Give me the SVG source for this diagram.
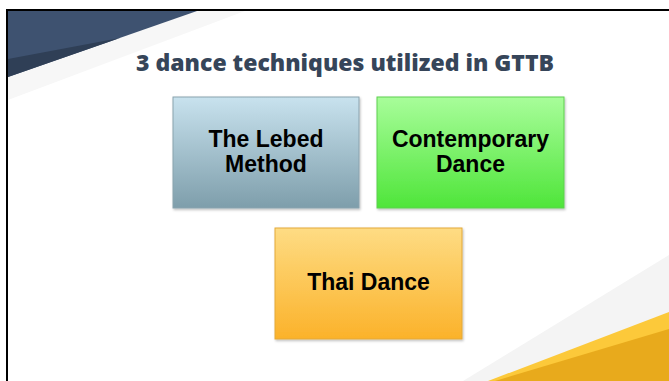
<svg xmlns="http://www.w3.org/2000/svg" width="669" height="381" viewBox="0 0 669 381">
  <defs>
    <linearGradient id="gBlue" x1="0" y1="0" x2="0" y2="1">
      <stop offset="0" stop-color="#c8e2ee"/>
      <stop offset="1" stop-color="#7e9eab"/>
    </linearGradient>
    <linearGradient id="gGreen" x1="0" y1="0" x2="0" y2="1">
      <stop offset="0" stop-color="#a8fd9a"/>
      <stop offset="1" stop-color="#4fe53a"/>
    </linearGradient>
    <linearGradient id="gGold" x1="0" y1="0" x2="0" y2="1">
      <stop offset="0" stop-color="#fedc84"/>
      <stop offset="1" stop-color="#fbb22a"/>
    </linearGradient>
    <filter id="shadow" x="-10%" y="-10%" width="125%" height="125%">
      <feDropShadow dx="1" dy="1.5" stdDeviation="1" flood-color="#000" flood-opacity="0.25"/>
    </filter>
  </defs>
  <style>
    .title { font-family: "Open Sans", "Liberation Sans", sans-serif; font-weight: 800; font-size: 22px; fill: #364559; }
    .label { font-family: "Liberation Sans", Arial, sans-serif; font-weight: 700; font-size: 23px; fill: #000; text-anchor: middle; }
    .box { filter: url(#shadow); stroke-width: 1; }
  </style>

  <!-- slide background -->
  <rect x="0" y="0" width="669" height="381" fill="#ffffff"/>

  <!-- corner decorations -->
  <polygon points="8,11 245,11 8,100" fill="#f7f7f7"/>
  <polygon points="8,11 197,11 8,77" fill="#3e5270"/>
  <polygon points="8,59 120,38 8,77" fill="#2f3f56"/>
  <polygon points="463,381 669,255 669,381" fill="#f4f4f4"/>
  <polygon points="488,381 669,312 669,381" fill="#fcc93a"/>
  <polygon points="495,381 669,329 669,381" fill="#e8aa1c"/>

  <!-- frame edges -->
  <rect x="6" y="9" width="663" height="2" fill="#000"/>
  <rect x="6" y="9" width="2" height="372" fill="#000"/>

  <text class="title" x="136" y="71" textLength="418" lengthAdjust="spacingAndGlyphs">3 dance techniques utilized in GTTB</text>

  <g id="node-lebed">
    <rect class="box" x="173" y="97" width="186" height="111" fill="url(#gBlue)" stroke="#8aa3ae"/>
    <text class="label" x="266" y="147">The Lebed</text>
    <text class="label" x="266" y="172">Method</text>
  </g>

  <g id="node-contemporary">
    <rect class="box" x="377" y="97" width="187" height="111" fill="url(#gGreen)" stroke="#5fcf4f"/>
    <text class="label" x="470.5" y="147">Contemporary</text>
    <text class="label" x="470.5" y="172">Dance</text>
  </g>

  <g id="node-thai">
    <rect class="box" x="275" y="228" width="187" height="111" fill="url(#gGold)" stroke="#e3a93a"/>
    <text class="label" x="368.5" y="290">Thai Dance</text>
  </g>

  <g id="connectors"></g>
</svg>
